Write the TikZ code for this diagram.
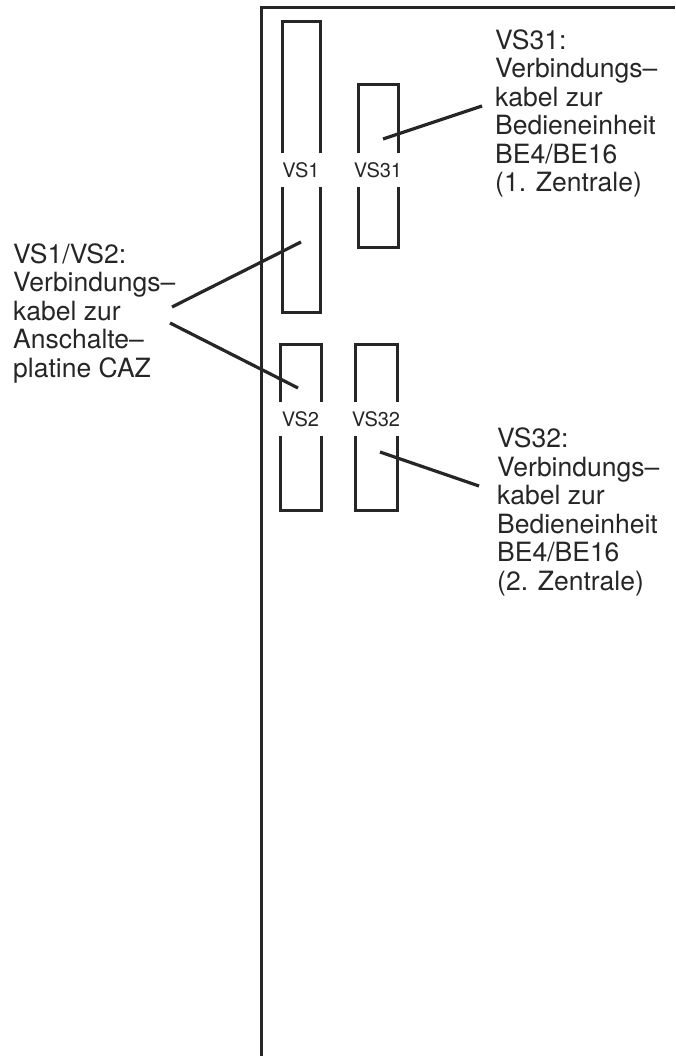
\documentclass[tikz,border=0pt]{standalone}
\usepackage{fontspec}
\setmainfont{TeX Gyre Heros}
\begin{document}
\begin{tikzpicture}[x=1pt,y=-1pt,
  frame/.style={line width=3pt,color=black!85},
  conn/.style={draw=black!85,line width=3pt,inner sep=0pt},
  lbl/.style={fill=white,inner sep=0pt,minimum width=50pt,minimum height=34pt,font=\fontsize{20}{24}\selectfont,text=black!85},
  leader/.style={line width=3.2pt,color=black!85},
  desc/.style={anchor=north west,align=left,inner sep=0pt,font=\fontsize{26.5}{28.5}\selectfont,text=black!85}]
\useasboundingbox (0,0) rectangle (675,1056);
% outer frame
\coordinate (fb) at (261,1056);
\coordinate (fc) at (261,8);
\coordinate (fr) at (675,8);
\draw[frame] (fb) -- (fc) -- (fr);
% connectors
\node[conn,minimum width=38pt,minimum height=290pt] (vs1) at (301,167) {};
\node[conn,minimum width=40pt,minimum height=163pt] (vs31) at (378,166.5) {};
\node[conn,minimum width=41pt,minimum height=166pt] (vs2) at (300.5,427) {};
\node[conn,minimum width=42pt,minimum height=166pt] (vs32) at (376,427) {};
% labels in gaps
\node[lbl] (l1) at (301,170) {VS1};
\node[lbl] (l31) at (378,170) {VS31};
\node[lbl] (l2) at (300.5,419) {VS2};
\node[lbl] (l32) at (376,419) {VS32};
% descriptions
\node[desc] (d31) at (495,29.5) {VS31:\\Verbindungs–\\kabel zur\\Bedieneinheit\\BE4/BE16\\(1. Zentrale)};
\node[desc] (d32) at (497,427.5) {VS32:\\Verbindungs–\\kabel zur\\Bedieneinheit\\BE4/BE16\\(2. Zentrale)};
\node[desc] (d12) at (13,243.5) {VS1/VS2:\\Verbindungs–\\kabel zur\\Anschalte–\\platine CAZ};
% leader lines
\coordinate (e31) at (383,139);
\coordinate (t31) at (482,106);
\coordinate (e1) at (301,242);
\coordinate (t1) at (172,307);
\coordinate (e2) at (298,388);
\coordinate (t2) at (170,323);
\coordinate (e32) at (380,452);
\coordinate (t32) at (479,486);
\draw[leader] (e31) -- (t31);
\draw[leader] (e1) -- (t1);
\draw[leader] (e2) -- (t2);
\draw[leader] (e32) -- (t32);
\end{tikzpicture}
\end{document}
